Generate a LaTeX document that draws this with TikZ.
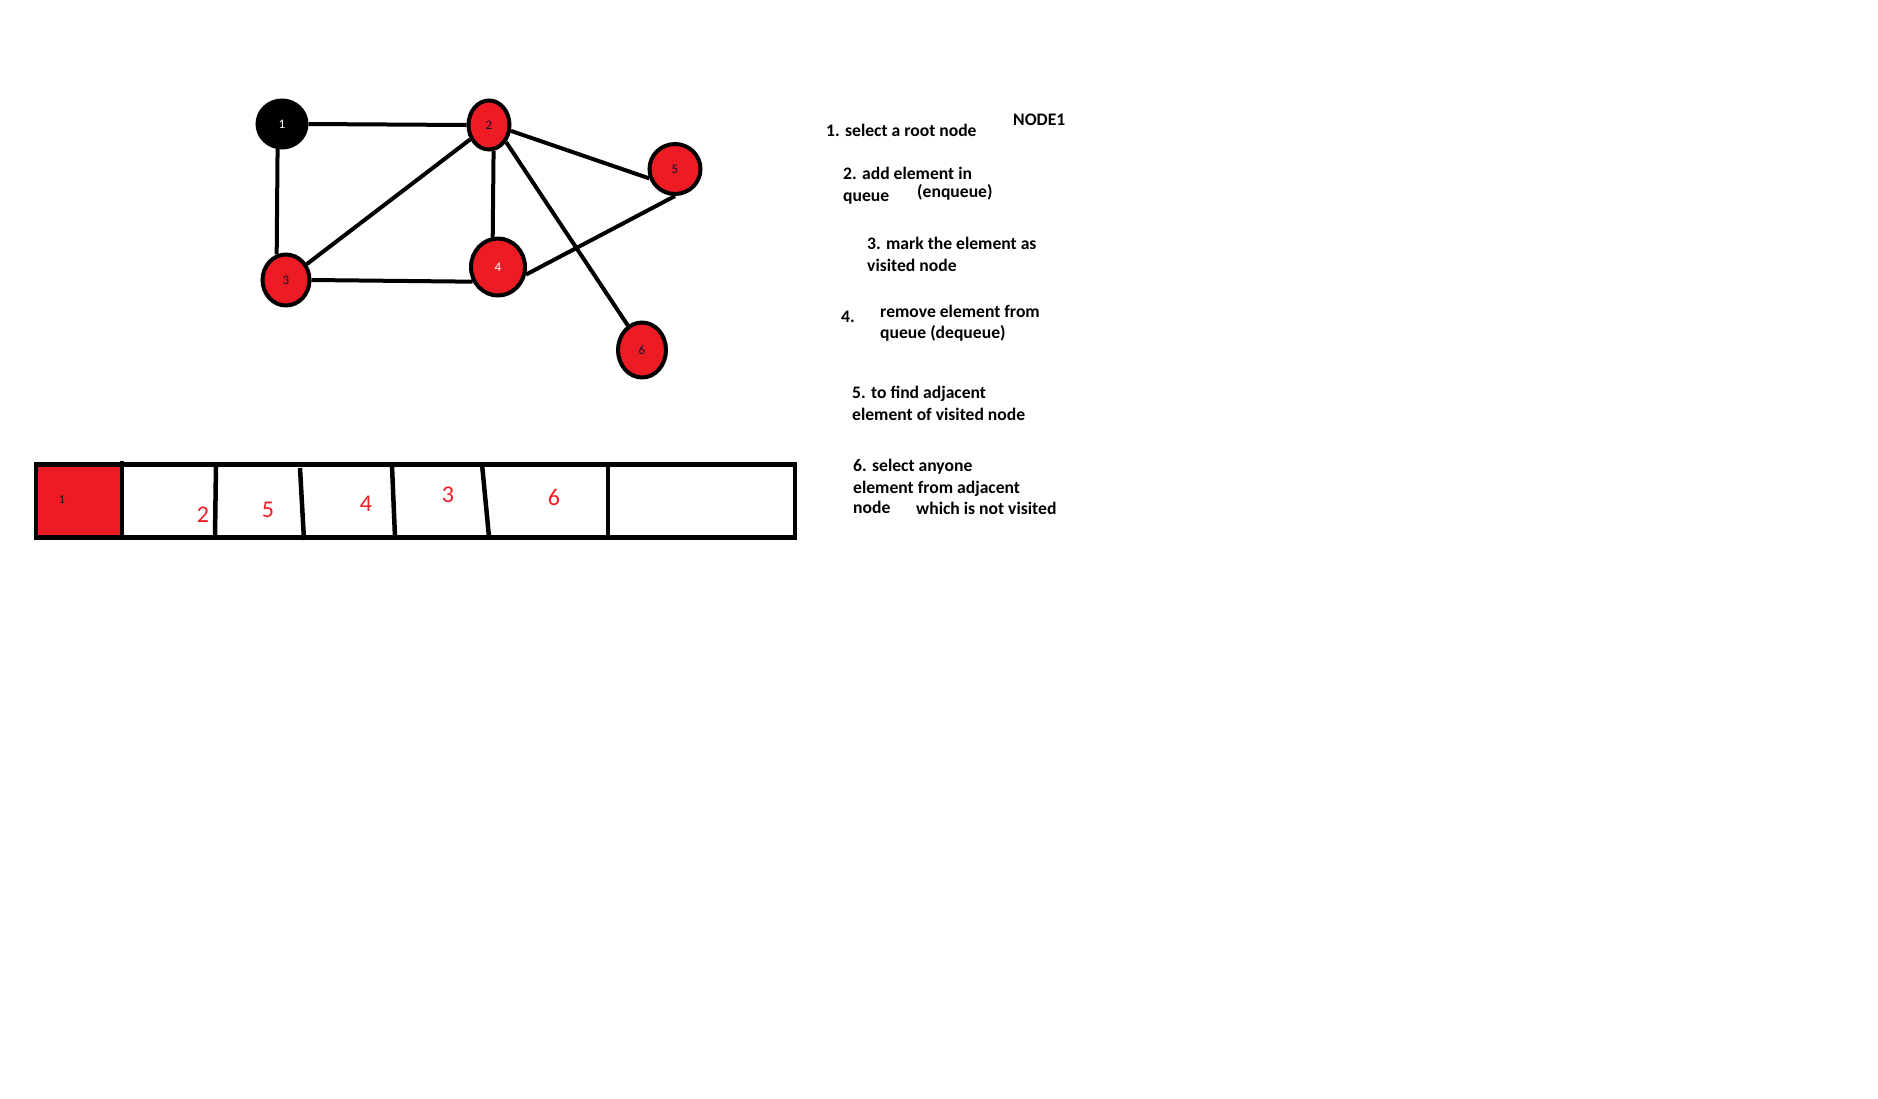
\documentclass[tikz,border=0pt]{standalone}
\usepackage{fontspec}
\setmainfont{Carlito}
\usepackage{tikz}
\usetikzlibrary{shapes.geometric,positioning}
\definecolor{bfsRed}{HTML}{ED1C24}
\definecolor{labelInk}{HTML}{101030}
\newcommand\stepfont{\fontsize{17.6}{21}\selectfont\bfseries}
\newcommand\qnumfont{\fontsize{24}{24}\selectfont}
\tikzset{
  vnode/.style={ellipse,draw=black,line width=4pt,fill=bfsRed,inner sep=0pt,
    text=labelInk,font=\fontsize{13}{13}\selectfont},
  rootnode/.style={vnode,fill=black,text=white},
  gedge/.style={line width=4pt},
  qline/.style={line width=4.5pt},
  stepline/.style={font=\stepfont,anchor=base west,inner sep=0pt},
  qnum/.style={font=\qnumfont,text=bfsRed,anchor=base,inner sep=0pt},
}

\begin{document}
\begin{tikzpicture}[x=1pt,y=-1pt]
\useasboundingbox[fill=white] (0,0) rectangle (1878,1098);
% graph
\node[rootnode,minimum width=49pt,minimum height=47pt] (n1) at (282,124) {1};
\node[vnode,minimum width=41pt,minimum height=49pt] (n2) at (489,125) {2};
\node[vnode,minimum width=47pt,minimum height=51pt] (n3) at (286,280) {3};
\node[vnode,minimum width=54pt,minimum height=57pt,text=white] (n4) at (498,267) {4};
\node[vnode,minimum width=51pt,minimum height=50pt] (n5) at (675,169) {5};
\node[vnode,minimum width=48pt,minimum height=55pt] (n6) at (642,350) {6};
\draw[gedge] (n1.east) -- (n2.west);
\draw[gedge] (n1.260) -- (n3.110);
\draw[gedge] (n2) -- (n3);
\draw[gedge] (n2.-80) -- (n4.100);
\draw[gedge] (n2.-15) -- (n5.200);
\draw[gedge] (n2.-45) -- (n6.120);
\draw[gedge] (n3.east) -- (n4.210);
\draw[gedge] (n4.-15) -- (n5.south);
% queue
\fill[bfsRed] (38,467) rectangle (120,535);
\node[draw,qline,minimum width=759pt,minimum height=73pt,inner sep=0pt] (queue) at (415.5,501) {};
\draw[qline] (122,461) -- (122,540);
\draw[qline] (216,464) -- (215,537);
\draw[qline] (300,468) -- (304,540);
\draw[qline] (392,466) -- (395,537);
\draw[qline] (482,464) -- (489,537);
\draw[qline] (608,464) -- (608,537);
\node[font=\fontsize{12}{12}\selectfont,text=labelInk,anchor=base,inner sep=0pt] (q1) at (62,503) {1};
\node[qnum] (q2) at (203,522) {2};
\node[qnum] (q5) at (268,517) {5};
\node[qnum] (q4) at (366,511) {4};
\node[qnum] (q3) at (448,502) {3};
\node[qnum] (q6) at (554,505) {6};
% steps
\node[stepline] (root) at (1013,125) {NODE1};
\node[stepline] (s1) at (826,136) {1. select a root node};
\node[stepline] (s2a) at (843,179) {2. add element in};
\node[stepline] (s2b) at (843,201) {queue};
\node[stepline] (s2c) at (917,197) {(enqueue)};
\node[stepline] (s3a) at (867,249) {3. mark the element as};
\node[stepline] (s3b) at (867,271) {visited node};
\node[stepline] (s4n) at (841,322) {4.};
\node[stepline] (s4a) at (880,317) {remove element from};
\node[stepline] (s4b) at (880,338) {queue (dequeue)};
\node[stepline] (s5a) at (852,398) {5. to find adjacent};
\node[stepline] (s5b) at (852,420) {element of visited node};
\node[stepline] (s6a) at (853,471) {6. select anyone};
\node[stepline] (s6b) at (853,493) {element from adjacent};
\node[stepline] (s6c) at (853,513) {node};
\node[stepline] (s6d) at (916,514) {which is not visited};
\end{tikzpicture}
\end{document}
